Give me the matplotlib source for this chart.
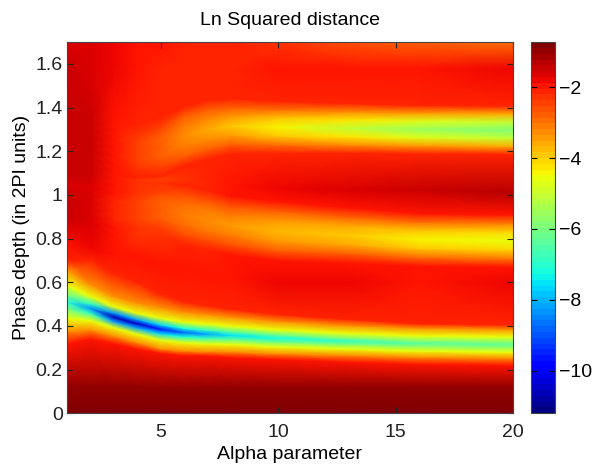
import numpy as np
import matplotlib
matplotlib.use("Agg")
import matplotlib.pyplot as plt
from matplotlib.ticker import FuncFormatter

plt.rcParams['font.family'] = ['Liberation Sans', 'DejaVu Sans']

# columns of the map (alpha values where the profile was read)
alpha = [1, 2, 3, 4, 5, 6, 7, 8, 10, 13, 16, 20]

# deep valley (blue line)
valley_pos = [0.51, 0.48, 0.44, 0.41, 0.385, 0.37, 0.363, 0.357, 0.343, 0.33, 0.32, 0.315]
valley_w = [0.075, 0.055, 0.048, 0.048, 0.05, 0.047, 0.045, 0.042, 0.039, 0.036, 0.035, 0.035]
valley_up = [0.19, 0.22, 0.20, 0.19, 0.16, 0.14, 0.13, 0.12, 0.11, 0.10, 0.09, 0.09]
valley_dn = [0.19, 0.14, 0.12, 0.115, 0.11, 0.105, 0.10, 0.10, 0.095, 0.095, 0.095, 0.095]
valley_min = [-7.0, -8.4, -10.6, -10.5, -9.6, -8.8, -8.1, -7.5, -7.2, -6.8, -6.4, -6.25]
valley_core = [-6.0, -6.9, -8.3, -8.1, -7.7, -7.2, -6.8, -6.4, -6.2, -5.95, -5.75, -5.65]

# red gap above valley
gap_pos = [0.76, 0.76, 0.72, 0.72, 0.68, 0.66, 0.64, 0.62, 0.6, 0.6, 0.6, 0.6]
gap_val = [-1.95, -1.8, -1.9, -1.9, -1.9, -1.9, -1.9, -1.9, -1.85, -1.85, -1.9, -1.85]

# second band (~0.8)
band2_pos = [0.95, 0.95, 0.93, 0.93, 0.935, 0.91, 0.885, 0.86, 0.835, 0.815, 0.795, 0.79]
band2_u = [0.03, 0.03, 0.04, 0.04, 0.04, 0.045, 0.045, 0.045, 0.045, 0.042, 0.04, 0.04]
band2_val = [-1.5, -1.55, -2.1, -2.45, -2.8, -3.1, -3.25, -3.4, -3.7, -4.0, -4.35, -4.55]
band2_edge = [-1.5, -1.55, -2.05, -2.4, -2.7, -2.95, -3.05, -3.15, -3.4, -3.65, -3.9, -4.1]
band2_shoulder = [-1.5, -1.55, -2.0, -2.35, -2.5, -2.6, -2.6, -2.6, -2.75, -2.85, -2.95, -3.05]
band2_red = [-1.55, -1.65, -2.0, -2.3, -2.3, -2.15, -2.05, -2.0, -2.0, -2.0, -2.0, -2.0]

# dark ridge between the bands (~1.0)
ridge_pos = [1.09, 1.09, 1.08, 1.07, 1.075, 1.07, 1.05, 1.04, 1.03, 1.02, 1.025, 1.01]
ridge_val = [-1.45, -1.5, -2.0, -2.35, -2.4, -2.3, -2.15, -2.0, -1.85, -1.6, -1.45, -1.38]

# third band (~1.3)
band3_pos = [1.25, 1.25, 1.22, 1.2, 1.22, 1.27, 1.3, 1.315, 1.31, 1.305, 1.30, 1.297]
band3_s = [0.03, 0.03, 0.04, 0.04, 0.045, 0.045, 0.045, 0.042, 0.04, 0.038, 0.037, 0.037]
band3_val = [-1.45, -1.5, -2.0, -2.4, -2.85, -3.3, -3.65, -3.95, -4.4, -5.0, -5.6, -5.9]
band3_edge = [-1.45, -1.5, -2.0, -2.4, -2.75, -3.1, -3.3, -3.5, -3.85, -4.3, -4.75, -5.0]
band3_shoulder = [-1.45, -1.5, -1.95, -2.3, -2.5, -2.7, -2.7, -2.75, -2.9, -3.2, -3.45, -3.6]
band3_red = [-1.45, -1.5, -1.9, -2.15, -2.2, -2.15, -2.1, -2.05, -2.05, -2.1, -2.1, -2.1]

# top and bottom of the map
top_val = [-1.5, -1.55, -1.8, -1.95, -2.1, -2.05, -2.05, -2.05, -2.0, -1.95, -1.9, -1.85]
edge_val = [-1.55, -1.6, -1.75, -1.9, -2.0, -2.1, -2.15, -2.2, -2.3, -2.6, -2.7, -2.95]
bottom_val = [-0.8] * len(alpha)
low_val = [-1.0] * len(alpha)

a = np.array(alpha, float)
vc, vw = np.array(valley_pos), np.array(valley_w)
vu, vd = np.array(valley_up), np.array(valley_dn)
b2, u2 = np.array(band2_pos), np.array(band2_u)
b3, u3 = np.array(band3_pos), np.array(band3_s)
n = len(alpha)
one = np.ones(n)

# mesh rows: (phase of the row in each column, value in each column)
rows = [
    (0.0 * one, bottom_val),
    (0.12 * one, low_val),
    (vc - vd, [-2.0] * n),
    (vc - 1.8 * vw, [-3.2] * n),
    (vc - vw, [-4.5] * n),
    (vc - 0.4 * vw, valley_core),
    (vc, valley_min),
    (vc + 0.4 * vw, valley_core),
    (vc + vw, [-4.5] * n),
    (vc + 2 * vw, [-3.2] * n),
    (vc + vu, [-2.05] * n),
    (np.array(gap_pos), gap_val),
    (b2 - 3 * u2, band2_red),
    (b2 - 2 * u2, band2_shoulder),
    (b2 - u2, band2_edge),
    (b2, band2_val),
    (b2 + u2, band2_edge),
    (b2 + 2 * u2, band2_shoulder),
    (b2 + 3 * u2, band2_red),
    (np.array(ridge_pos), ridge_val),
    (b3 - 3 * u3, band3_red),
    (b3 - 2 * u3, band3_shoulder),
    (b3 - u3, band3_edge),
    (b3, band3_val),
    (b3 + u3, band3_edge),
    (b3 + 2 * u3, band3_shoulder),
    (b3 + 3 * u3, band3_red),
    (1.58 * one, top_val),
    (1.7 * one, edge_val),
]

Y = np.array([r[0] for r in rows])
C = np.array([r[1] for r in rows], float)
X = np.tile(a, (len(rows), 1))

fig = plt.figure(figsize=(5.93, 4.68), dpi=100)
ax = fig.add_axes([0.113, 0.117, 0.752, 0.793])
cmap = plt.get_cmap('jet', 64)
mesh = ax.pcolormesh(X, Y, C, shading='gouraud', cmap=cmap, vmin=-11.2, vmax=-0.73)
ax.set_xlim(1, 20)
ax.set_ylim(0, 1.7)
ax.set_xticks([5, 10, 15, 20])
ax.set_yticks(np.arange(0, 1.61, 0.2))
ax.yaxis.set_major_formatter(FuncFormatter(lambda v, p: '%g' % round(v, 1)))
ax.tick_params(direction='in', top=True, right=True, length=4, width=0.8,
               labelsize=14, colors='#222222')
ax.tick_params(axis='x', pad=8)
ax.tick_params(axis='y', pad=3)
for s in ax.spines.values():
    s.set_linewidth(0.8)
    s.set_color('#444444')
ax.set_title('Ln Squared distance', fontsize=14, pad=12)
ax.set_xlabel('Alpha parameter', fontsize=14, labelpad=3)
ax.set_ylabel('Phase depth (in 2PI units)', fontsize=14, labelpad=4)

cax = fig.add_axes([0.896, 0.117, 0.040, 0.793])
cb = fig.colorbar(mesh, cax=cax, ticks=[-2, -4, -6, -8, -10])
cb.ax.tick_params(direction='in', left=True, right=True, length=4, width=0.8,
                  labelsize=14, pad=3)
cb.outline.set_linewidth(0.8)
cb.outline.set_edgecolor('#444444')

fig.savefig('out.png', dpi=100)
